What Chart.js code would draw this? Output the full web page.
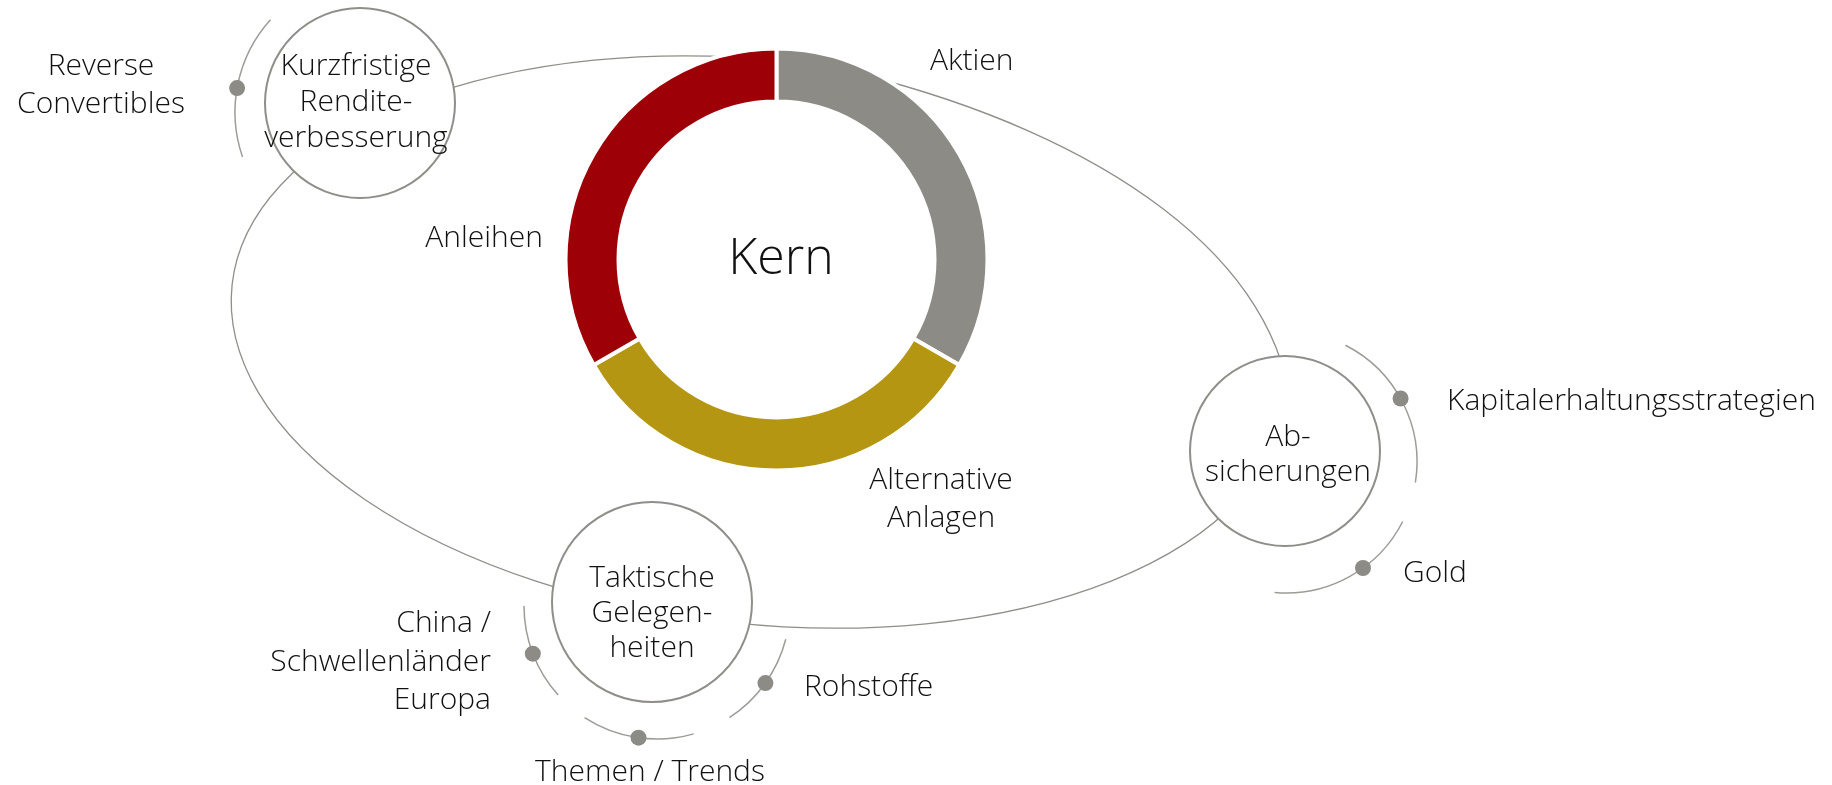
<!DOCTYPE html>
<html lang="de">
<head>
<meta charset="utf-8">
<title>Kern und Satelliten</title>
<script src="https://cdn.jsdelivr.net/npm/chart.js@4.4.0/dist/chart.umd.min.js"></script>
<style>
  html, body { margin: 0; padding: 0; background: #ffffff; }
</style>
</head>
<body>
<canvas id="graficoKern" width="1832" height="785"></canvas>
<script>
// Datos del anillo central
const tituloKern = 'Kern';
const etiquetasKern = [['Aktien'], ['Alternative', 'Anlagen'], ['Anleihen']];
const valoresKern = [1, 1, 1];

// Textos de los tres circulos
const etiquetasNodos = [
  ['Kurzfristige', 'Rendite-', 'verbesserung'],
  ['Ab-', 'sicherungen'],
  ['Taktische', 'Gelegen-', 'heiten']
];

// Textos de los puntos alrededor de cada circulo
const etiquetasPuntos = [
  [['Reverse', 'Convertibles']],
  [['Kapitalerhaltungsstrategien'], ['Gold']],
  [['China /', 'Schwellenländer', 'Europa'], ['Themen / Trends'], ['Rohstoffe']]
];

// ---- posiciones y estilos (pixeles del lienzo) ----
const centroAnillo = { x: 776.5, y: 259.5 };
const radioExterior = 211;
const radioInterior = 158;
const coloresKern = ['#8c8b86', '#b59613', '#9e0008'];
const colorLinea = '#8f8e89';
const colorTexto = '#111111';
const fuente = '"Open Sans", "Noto Sans", sans-serif';
const fuenteEtiquetas = '300 30px ' + fuente;
const fuenteTitulo = '300 50px ' + fuente;

const posEtiquetasKern = [
  { x: 930, y: 70, align: 'left' },
  { x: 941, y: 489, align: 'center' },
  { x: 543, y: 247, align: 'right' }
];

// linea que une los circulos: un trozo de elipse y una curva arriba a la derecha
// (los extremos quedan tapados por el anillo y los circulos)
const elipse = { x: 760, y: 342, rx: 531, ry: 282, giro: 6.2, desde: 0, hasta: 275 };
const tramoDerecho = [[860, 74], [1100, 134], [1284, 258], [1292, 420]];

const nodos = [
  { x: 360, y: 103, r: 95, tx: 356, ty: 75, paso: 36 },
  { x: 1285, y: 451, r: 95, tx: 1288, ty: 446, paso: 35 },
  { x: 652, y: 602, r: 100, tx: 652, ty: 587, paso: 35 }
];

// arcos finos con su punto: desde, hasta y punto en grados
const arcos = [
  { cx: 373, cy: 112, r: 138, tramos: [
    { desde: 161, hasta: 222, punto: 190, tx: 101, ty: 75, align: 'center', paso: 38 }
  ] },
  { cx: 1286, cy: 462, r: 131, tramos: [
    { desde: -63, hasta: 9, punto: -29, tx: 1447, ty: 410, align: 'left', paso: 37 },
    { desde: 27, hasta: 95, punto: 54, tx: 1403, ty: 582, align: 'left', paso: 37 }
  ] },
  { cx: 657, cy: 606, r: 133, tramos: [
    { desde: 138, hasta: 180, punto: 159, tx: 491, ty: 632, align: 'right', paso: 38.5 },
    { desde: 74, hasta: 123, punto: 98, tx: 650, ty: 781, align: 'center', paso: 37 },
    { desde: 14.5, hasta: 57, punto: 35.4, tx: 804, ty: 696, align: 'left', paso: 37 }
  ] }
];

function rad(g) {
  return g * Math.PI / 180;
}

function escribirLineas(ctx, lineas, x, y, paso, align) {
  ctx.textAlign = align;
  for (var i = 0; i < lineas.length; i++) {
    ctx.fillText(lineas[i], x, y + i * paso);
  }
}

// plugin que dibuja la union, los circulos, los arcos y los textos
const dibujoSatelites = {
  id: 'dibujoSatelites',
  beforeDatasetsDraw(chart) {
    const ctx = chart.ctx;
    ctx.save();
    ctx.strokeStyle = colorLinea;
    ctx.lineWidth = 1.3;

    ctx.beginPath();
    ctx.ellipse(elipse.x, elipse.y, elipse.rx, elipse.ry, rad(elipse.giro), rad(elipse.desde), rad(elipse.hasta));
    ctx.stroke();

    const t = tramoDerecho;
    ctx.beginPath();
    ctx.moveTo(t[0][0], t[0][1]);
    ctx.bezierCurveTo(t[1][0], t[1][1], t[2][0], t[2][1], t[3][0], t[3][1]);
    ctx.stroke();
    ctx.restore();
  },
  afterDatasetsDraw(chart) {
    const ctx = chart.ctx;
    ctx.save();

    // circulos blancos con borde gris
    nodos.forEach((n) => {
      ctx.beginPath();
      ctx.arc(n.x, n.y, n.r, 0, Math.PI * 2);
      ctx.fillStyle = '#ffffff';
      ctx.fill();
      ctx.strokeStyle = colorLinea;
      ctx.lineWidth = 2;
      ctx.stroke();
    });

    // arcos y puntos
    arcos.forEach((a) => {
      a.tramos.forEach((t) => {
        ctx.beginPath();
        ctx.arc(a.cx, a.cy, a.r, rad(t.desde), rad(t.hasta));
        ctx.strokeStyle = '#9d9c97';
        ctx.lineWidth = 1.5;
        ctx.stroke();

        ctx.beginPath();
        ctx.arc(a.cx + a.r * Math.cos(rad(t.punto)), a.cy + a.r * Math.sin(rad(t.punto)), 8, 0, Math.PI * 2);
        ctx.fillStyle = '#8c8b86';
        ctx.fill();
      });
    });

    // textos
    ctx.fillStyle = colorTexto;
    ctx.textBaseline = 'alphabetic';
    ctx.font = fuenteEtiquetas;

    etiquetasKern.forEach((lineas, i) => {
      const p = posEtiquetasKern[i];
      escribirLineas(ctx, lineas, p.x, p.y, 38, p.align);
    });

    etiquetasNodos.forEach((lineas, i) => {
      const n = nodos[i];
      escribirLineas(ctx, lineas, n.tx, n.ty, n.paso, 'center');
    });

    etiquetasPuntos.forEach((grupo, i) => {
      grupo.forEach((lineas, j) => {
        const t = arcos[i].tramos[j];
        escribirLineas(ctx, lineas, t.tx, t.ty, t.paso, t.align);
      });
    });

    ctx.font = fuenteTitulo;
    ctx.textAlign = 'center';
    ctx.fillText(tituloKern, 781, 274);

    ctx.restore();
  }
};

// Crear el grafico de anillo con Chart.js
const ctxKern = document.getElementById('graficoKern').getContext('2d');
new Chart(ctxKern, {
  type: 'doughnut',
  data: {
    labels: etiquetasKern.map((l) => l.join(' ')),
    datasets: [{
      data: valoresKern,
      backgroundColor: coloresKern,
      borderColor: '#ffffff',
      borderWidth: 4
    }]
  },
  options: {
    responsive: false,
    animation: false,
    radius: radioExterior,
    cutout: (radioInterior / radioExterior * 100) + '%',
    layout: {
      padding: {
        left: centroAnillo.x - 220,
        right: 1832 - (centroAnillo.x + 220),
        top: centroAnillo.y - 220,
        bottom: 785 - (centroAnillo.y + 220)
      }
    },
    plugins: {
      legend: { display: false },
      tooltip: { enabled: false }
    }
  },
  plugins: [dibujoSatelites]
});
</script>
</body>
</html>
